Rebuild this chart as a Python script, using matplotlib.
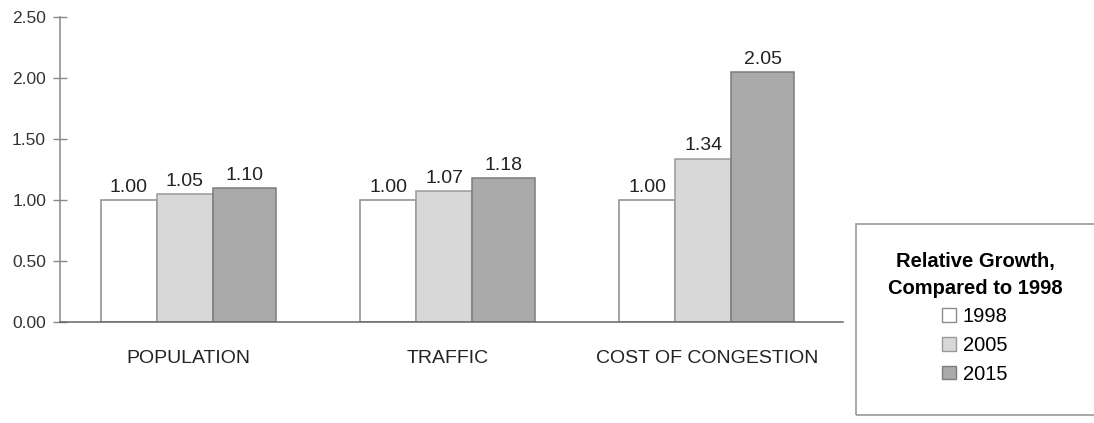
import matplotlib.pyplot as plt
import numpy as np
from matplotlib.patches import Patch, Rectangle

categories = ["POPULATION", "TRAFFIC", "COST OF CONGESTION"]
years = ["1998", "2005", "2015"]
values_1998 = [1.00, 1.00, 1.00]
values_2005 = [1.05, 1.07, 1.34]
values_2015 = [1.10, 1.18, 2.05]
yticks = [0.0, 0.5, 1.0, 1.5, 2.0, 2.5]

plt.rcParams["font.family"] = ["Liberation Sans", "DejaVu Sans"]

fig = plt.figure(figsize=(10.94, 4.23), dpi=100)
ax = fig.add_axes([60 / 1094, 101 / 423, 783 / 1094, 305 / 423])

x = np.arange(len(categories))
w = 0.216
w3 = 0.243
start = x - 0.338

series = [values_1998, values_2005, values_2015]
fills = ["#ffffff", "#d8d8d8", "#aaaaaa"]
edges = ["#8c8c8c", "#9a9a9a", "#7c7c7c"]
offsets = [0, w, 2 * w]
widths = [w, w, w3]

handles = []
for vals, fc, ec, off, bw, yr in zip(series, fills, edges, offsets, widths, years):
    bars = ax.bar(start + off, vals, width=bw, align="edge", color=fc,
                  edgecolor=ec, linewidth=1.1, zorder=2)
    for b, v in zip(bars, vals):
        ax.text(b.get_x() + b.get_width() / 2, v + 0.035, f"{v:.2f}",
                ha="center", va="bottom", fontsize=14, color="#222222")
    handles.append(Patch(facecolor=fc, edgecolor=ec, linewidth=1.0, label=yr))

ax.set_xlim(-0.496, 2.525)
ax.set_ylim(0, 2.5)
ax.set_yticks(yticks)
ax.set_yticklabels([f"{t:.2f}" for t in yticks])
ax.set_xticks(x)
ax.set_xticklabels(categories)

for s in ["top", "right"]:
    ax.spines[s].set_visible(False)
ax.spines["left"].set_color("#888888")
ax.spines["bottom"].set_color("#666666")
ax.spines["left"].set_linewidth(1.1)
ax.spines["bottom"].set_linewidth(1.1)
ax.tick_params(axis="y", direction="inout", length=10, width=1.0,
               color="#888888", labelsize=12.5, labelcolor="#333333", pad=5)
ax.tick_params(axis="x", length=0, labelsize=14, labelcolor="#222222", pad=20)

# legend box (cut off at the right edge like the original)
fig.patches.append(Rectangle((856 / 1094, 8 / 423), 300 / 1094, 191 / 423,
                             transform=fig.transFigure, facecolor="none",
                             edgecolor="#999999", linewidth=1.2))

leg = fig.legend(handles=handles, loc="upper center",
                 bbox_to_anchor=(975 / 1094, 1 - 242 / 423),
                 frameon=False, fontsize=14.5,
                 title="Relative Growth,\nCompared to 1998",
                 title_fontproperties={"weight": "bold", "size": 14.5},
                 handlelength=0.65, handleheight=0.65, handletextpad=0.35,
                 labelspacing=0.48, borderpad=0)
leg.get_title().set_linespacing(1.5)
leg.get_title().set_multialignment("center")

fig.savefig("out.png", dpi=100)
